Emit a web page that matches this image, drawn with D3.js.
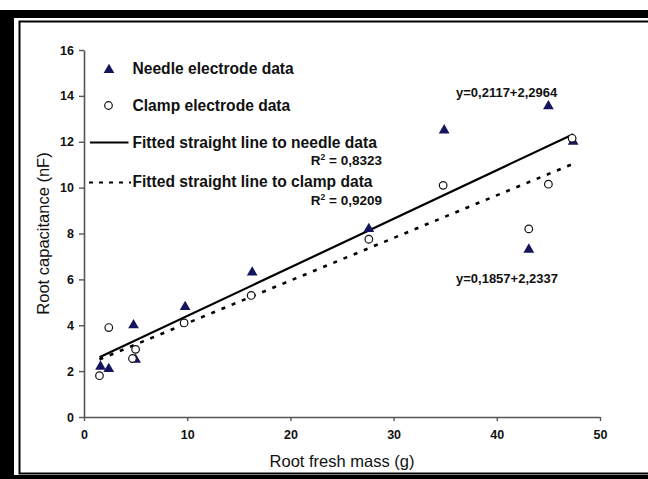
<!DOCTYPE html>
<html><head><meta charset="utf-8">
<script src="https://cdn.jsdelivr.net/npm/d3@7"></script>
<style>
html,body{margin:0;padding:0;background:#fff;}
svg{display:block;font-family:"Liberation Sans",Arial,sans-serif;}
</style></head>
<body>
<svg id="c" width="648" height="479"></svg>
<script>
// ---- data ----
const needleX = [1.6, 2.4, 4.8, 5.0, 9.8, 16.3, 27.6, 34.9, 43.1, 45.0, 47.4];
const needleY = [2.2, 2.1, 4.0, 2.5, 4.8, 6.3, 8.2, 12.5, 7.3, 13.55, 12.0];
const clampX  = [1.5, 2.4, 4.7, 5.0, 9.7, 16.2, 27.6, 34.8, 43.1, 45.0, 47.3];
const clampY  = [1.8, 3.9, 2.55, 2.95, 4.1, 5.3, 7.75, 10.1, 8.2, 10.15, 12.15];
// fitted lines as drawn (end points)
const needleFitX = [1.5, 47.4];
const needleFitY = [2.6, 12.33];
const clampFitX  = [1.5, 47.3];
const clampFitY  = [2.51, 11.02];
const xTicks = [0, 10, 20, 30, 40, 50];
const yTicks = [0, 2, 4, 6, 8, 10, 12, 14, 16];
const legendLabels = ["Needle electrode data", "Clamp electrode data",
  "Fitted straight line to needle data", "Fitted straight line to clamp data"];
const r2Labels = ["0,8323", "0,9209"];
const eqLabels = ["y=0,2117+2,2964", "y=0,1857+2,2337"];
const xTitle = "Root fresh mass (g)";
const yTitle = "Root capacitance (nF)";

const svg = d3.select("#c");
const W = 648, H = 479;

// ---- frame ----
svg.append("rect").attr("x",0).attr("y",10).attr("width",W).attr("height",H-10).attr("fill","#000");
svg.append("rect").attr("x",14).attr("y",18).attr("width",W).attr("height",H-22).attr("fill","#fff");
svg.append("rect").attr("x",19.5).attr("y",21.5).attr("width",W).attr("height",H-27).attr("fill","none")
  .attr("stroke","#000").attr("stroke-width",2);

// ---- scales ----
const x = d3.scaleLinear().domain([0,50]).range([84,600]);
const y = d3.scaleLinear().domain([0,16]).range([417,50]);

// ---- axes ----
const ax = svg.append("g").attr("transform",`translate(0,${y(0)})`)
  .call(d3.axisBottom(x).tickValues(xTicks).tickSize(4).tickSizeOuter(0).tickPadding(9));
const ay = svg.append("g").attr("transform",`translate(${x(0)},0)`)
  .call(d3.axisLeft(y).tickValues(yTicks).tickSize(5).tickSizeOuter(0).tickPadding(5));
[ax, ay].forEach(g => {
  g.selectAll("path.domain").attr("stroke","#555").attr("stroke-width",1.6);
  g.selectAll(".tick line").attr("stroke","#555").attr("stroke-width",1.4);
  g.selectAll(".tick text").attr("fill","#111").attr("font-size","12.5px").attr("font-weight","bold")
    .attr("font-family","Liberation Sans, Arial, sans-serif");
});

// ---- axis titles ----
svg.append("text").attr("x",(x(0)+x(50))/2).attr("y",467).attr("text-anchor","middle")
  .attr("font-size","16.5px").attr("fill","#111").text(xTitle);
svg.append("text").attr("transform",`translate(49,${(y(0)+y(16))/2}) rotate(-90)`)
  .attr("text-anchor","middle").attr("font-size","16.5px").attr("fill","#111").text(yTitle);

// ---- fitted lines ----
const line = d3.line().x(d=>x(d[0])).y(d=>y(d[1]));
svg.append("path").datum(needleFitX.map((v,i)=>[v,needleFitY[i]])).attr("d",line)
  .attr("fill","none").attr("stroke","#000").attr("stroke-width",2.2);
svg.append("path").datum(clampFitX.map((v,i)=>[v,clampFitY[i]])).attr("d",line)
  .attr("fill","none").attr("stroke","#000").attr("stroke-width",2.6).attr("stroke-dasharray","4,7");

// ---- points ----
const tri = d3.symbol().type(d3.symbolTriangle).size(50);
const navy = "#15155e";
svg.append("g").selectAll("path").data(needleX.map((v,i)=>[v,needleY[i]])).join("path")
  .attr("d",tri).attr("transform",d=>`translate(${x(d[0])},${y(d[1])})`).attr("fill",navy);
svg.append("g").selectAll("circle").data(clampX.map((v,i)=>[v,clampY[i]])).join("circle")
  .attr("cx",d=>x(d[0])).attr("cy",d=>y(d[1])).attr("r",3.8)
  .attr("fill","#fff").attr("stroke","#111").attr("stroke-width",1.2);

// ---- legend ----
const lg = svg.append("g").attr("font-weight","bold").attr("fill","#111");
lg.append("path").attr("d",tri).attr("transform","translate(109,70)").attr("fill",navy);
lg.append("circle").attr("cx",108.5).attr("cy",105.5).attr("r",3.8).attr("fill","#fff")
  .attr("stroke","#111").attr("stroke-width",1.2);
lg.append("line").attr("x1",90).attr("x2",128.5).attr("y1",142.5).attr("y2",142.5)
  .attr("stroke","#000").attr("stroke-width",2);
lg.append("line").attr("x1",89).attr("x2",131).attr("y1",182.5).attr("y2",182.5)
  .attr("stroke","#000").attr("stroke-width",2).attr("stroke-dasharray","4,6");
const lgY = [73.5, 110.5, 147.5, 187];
legendLabels.forEach((t,i)=>{
  lg.append("text").attr("x",132.5).attr("y",lgY[i]).attr("font-size","15.6px").text(t);
});
const r2Y = [165, 204.5];
r2Labels.forEach((t,i)=>{
  const tx = lg.append("text").attr("x",382).attr("y",r2Y[i]).attr("text-anchor","end").attr("font-size","13.5px");
  tx.append("tspan").text("R");
  tx.append("tspan").attr("font-size","8.5px").attr("dy",-5).text("2");
  tx.append("tspan").attr("dy",5).text(" = " + t);
});
// ---- equation labels ----
const eqY = [97, 282.5];
eqLabels.forEach((t,i)=>{
  svg.append("text").attr("x",456).attr("y",eqY[i]).attr("font-size","13px").attr("font-weight","bold")
    .attr("fill","#111").text(t);
});
</script>
</body></html>
